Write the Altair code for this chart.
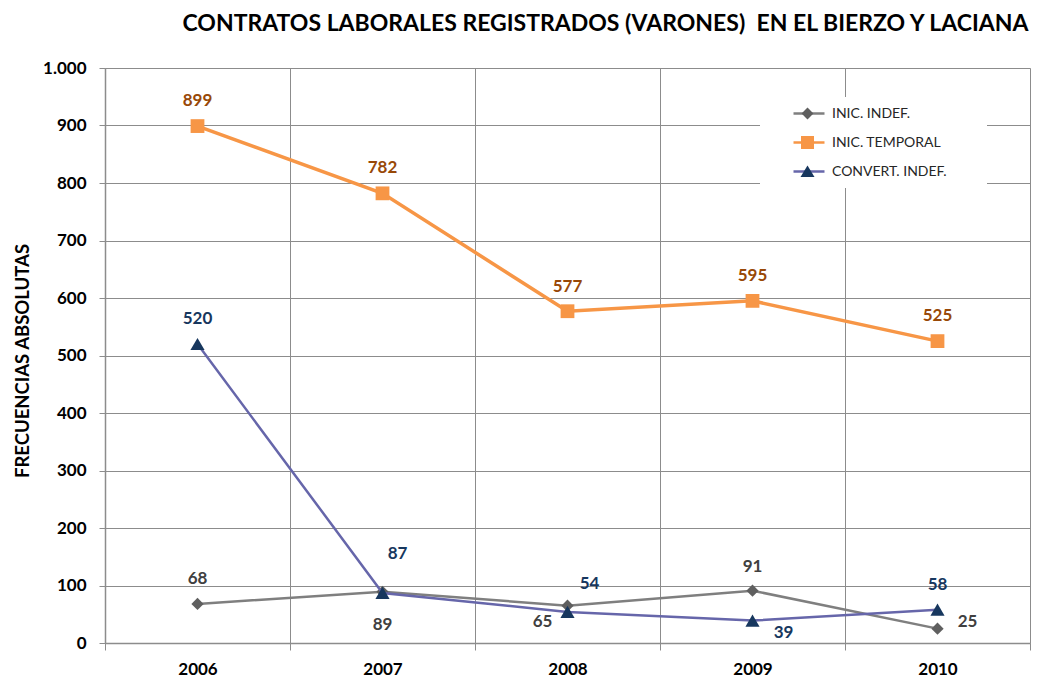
import altair as alt
import pandas as pd

# ---------------- data ----------------
years = [2006, 2007, 2008, 2009, 2010]
series_names = ["INIC. INDEF.", "INIC. TEMPORAL", "CONVERT. INDEF."]
series_keys = ["k0", "k1", "k2"]
inic_indef = [68, 89, 65, 91, 25]
inic_temporal = [899, 782, 577, 595, 525]
convert_indef = [520, 87, 54, 39, 58]
y_ticks = [0, 100, 200, 300, 400, 500, 600, 700, 800, 900, 1000]
x_ticks = [2005.5, 2006, 2006.5, 2007, 2007.5, 2008, 2008.5, 2009, 2009.5, 2010, 2010.5]
title_text = "CONTRATOS LABORALES REGISTRADOS (VARONES)\u00a0 EN EL BIERZO Y LACIANA"
y_title = "FRECUENCIAS ABSOLUTAS"

rows = []
for name, key, vals in zip(series_names, series_keys, [inic_indef, inic_temporal, convert_indef]):
    for yr, v in zip(years, vals):
        rows.append({"serie": name, "key": key, "year": yr, "value": v})
df = pd.DataFrame(rows)

# ---------------- styles ----------------
FONT = "Lato"
GRID = "#8C8C8C"
line_colors = ["#7F7F7F", "#F79646", "#6666AA"]
marker_colors = ["#5F5F5F", "#F79646", "#17375E"]
label_colors = ["#404040", "#984807", "#17375E"]
line_widths = [2.5, 3.5, 2.5]
marker_shapes = ["diamond", "square", "triangle-up"]
marker_sizes = [150, 190, 200]

# label offsets (dx, dy) per (series index, year)
label_offsets = {
    (0, 2006): (0, -25), (0, 2007): (0, 33), (0, 2008): (-25, 16), (0, 2009): (0, -24), (0, 2010): (30, -7),
    (1, 2006): (0, -25), (1, 2007): (0, -25), (1, 2008): (0, -24), (1, 2009): (0, -25), (1, 2010): (0, -25),
    (2, 2006): (0, -25), (2, 2007): (15, -39), (2, 2008): (22, -28), (2, 2009): (31, 12), (2, 2010): (0, -25),
}

# legend geometry (normalized custom symbol paths)
SYM_M = 4356    # marker legend symbol column 66px
cx = 0.379
h = 0.18
diamond_p = f"M{cx},{-h}L{cx+h},0L{cx},{h}L{cx-h},0Z"
s = 0.197
square_p = f"M{cx-s},{-s}H{cx+s}V{s}H{cx-s}Z"
tw, tt, tb = 0.212, -0.18, 0.167
triangle_p = f"M{cx-tw},{tb}H{cx+tw}L{cx},{tt}Z"
legend_marker_paths = [diamond_p, square_p, triangle_p]
SYM_L = 46656   # line legend symbol column 216px (sets white box width)
legend_line_path = "M-0.7222,0H-0.4352"

x_enc = alt.X(
    "year:Q",
    scale=alt.Scale(domain=[2005.5, 2010.5], nice=False, zero=False),
    axis=alt.Axis(
        values=x_ticks,
        labelExpr="datum.value % 1 === 0 ? format(datum.value, 'd') : ''",
        grid=True,
        gridColor=GRID,
        gridWidth=1,
        gridOpacity={"condition": {"test": "datum.value % 1 === 0", "value": 0}, "value": 1},
        tickOpacity={"condition": {"test": "datum.value % 1 === 0", "value": 0}, "value": 1},
        tickColor=GRID,
        tickSize=7,
        domainColor=GRID,
        domainWidth=1.5,
        labelFont=FONT,
        labelFontSize=17,
        labelFontWeight="bold",
        labelColor="black",
        labelPadding=11,
        labelOverlap=False,
        labelFlush=False,
        title=None,
    ),
)
y_enc = alt.Y(
    "value:Q",
    scale=alt.Scale(domain=[0, 1000], nice=False),
    axis=alt.Axis(
        values=y_ticks,
        labelExpr="replace(format(datum.value, ','), ',', '.')",
        grid=True,
        gridColor=GRID,
        gridWidth=1,
        tickColor=GRID,
        tickSize=6,
        domainColor=GRID,
        domainWidth=1.5,
        labelFont=FONT,
        labelFontSize=17,
        labelFontWeight="bold",
        labelColor="black",
        labelPadding=13,
        title=y_title,
        titleFont=FONT,
        titleFontSize=18.5,
        titleFontWeight="bold",
        titleColor="black",
        titleX=-83,
        titleY=292.5,
        titleAngle=270,
        titleBaseline="middle",
    ),
)

base = alt.Chart(df).encode(x=x_enc, y=y_enc)

line_legend = alt.Legend(
    orient="none", legendX=655, legendY=29, title=None,
    symbolType=legend_line_path, symbolSize=SYM_L, symbolStrokeWidth=2.5,
    clipHeight=29, padding=2, fillColor="white", rowPadding=0,
    labelExpr="''", labelFontSize=14, labelOffset=4,
)
marker_legend = alt.Legend(
    orient="none", legendX=655, legendY=29, title=None,
    symbolSize=SYM_M, symbolStrokeWidth=0, symbolOpacity=1,
    clipHeight=29, padding=2, rowPadding=0,
    labelFont=FONT, labelFontSize=14, labelColor="#262626", labelLimit=400, labelOffset=4,
)

layers = []
for i, key in enumerate(series_keys):
    layers.append(
        base.mark_line(strokeWidth=line_widths[i]).encode(
            color=alt.Color("key:N", scale=alt.Scale(domain=series_keys, range=line_colors), legend=line_legend)
        ).transform_filter(alt.datum.key == key)
    )
    layers.append(
        base.mark_point(filled=True, shape=marker_shapes[i], size=marker_sizes[i],
                        color=marker_colors[i], opacity=1, strokeWidth=0)
        .transform_filter(alt.datum.key == key)
    )
for i, key in enumerate(series_keys):
    for yr in years:
        dx, dy = label_offsets[(i, yr)]
        layers.append(
            base.mark_text(dx=dx, dy=dy, font=FONT, fontSize=17, fontWeight="bold",
                           color=label_colors[i], align="center", baseline="middle")
            .encode(text=alt.Text("value:Q"))
            .transform_filter((alt.datum.key == key) & (alt.datum.year == yr))
        )
# legend-only layer for the markers (no marks drawn)
layers.append(
    base.mark_point(filled=True).encode(
        fill=alt.Fill("serie:N", scale=alt.Scale(domain=series_names, range=marker_colors), legend=marker_legend),
        shape=alt.Shape("serie:N", scale=alt.Scale(domain=series_names, range=legend_marker_paths), legend=marker_legend),
    ).transform_filter("false")
)

chart = alt.layer(*layers).properties(
    width=925,
    height=575,
    autosize=alt.AutoSizeParams(type="none"),
    padding={"left": 97, "top": 60, "right": 9, "bottom": 35},
    title=alt.TitleParams(
        text=title_text, font=FONT, fontSize=23, fontWeight="bold", color="black",
        anchor="middle", dx=38, offset=23,
    ),
).configure_view(stroke=GRID, strokeWidth=1).configure(background="white")

chart.save("out.html", embed_options={"renderer": "svg", "actions": False})
